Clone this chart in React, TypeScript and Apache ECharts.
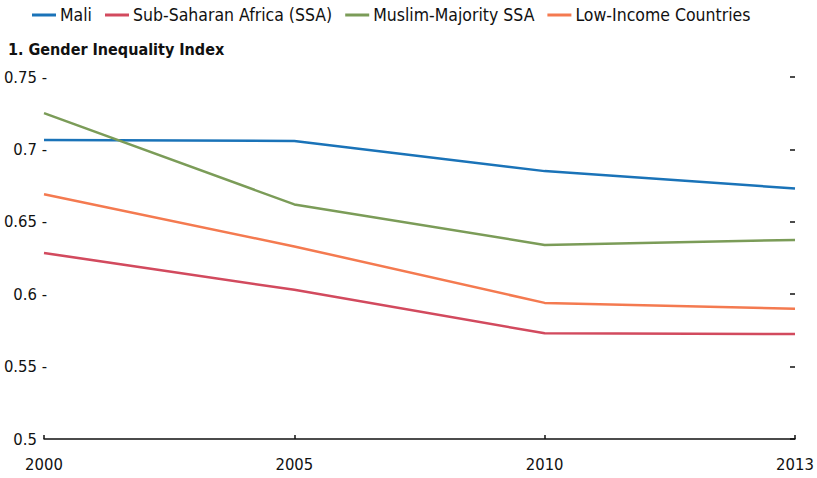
import React, { useEffect, useRef } from "react";
import * as echarts from "echarts";

const years = ["2000", "2005", "2010", "2013"];
const mali = [0.7065, 0.7058, 0.685, 0.673];
const ssa = [0.6285, 0.603, 0.573, 0.5725];
const muslimSSA = [0.725, 0.662, 0.634, 0.6375];
const lowIncome = [0.669, 0.633, 0.594, 0.59];

const seriesNames = ["Mali", "Sub-Saharan Africa (SSA)", "Muslim-Majority SSA", "Low-Income Countries"];
const colors = ["#1a73b8", "#d24a5e", "#7b9c58", "#f47a50"];

const FONT = "'DejaVu Sans Condensed', 'Liberation Sans Narrow', sans-serif";

export default function App() {
  const ref = useRef<HTMLDivElement>(null);
  useEffect(() => {
    if (!ref.current) return;
    const chart = echarts.init(ref.current, null, { renderer: "svg" });
    const data = [mali, ssa, muslimSSA, lowIncome];
    chart.setOption({
      animation: false,
      textStyle: { fontFamily: FONT },
      title: {
        text: "1. Gender Inequality Index",
        left: 8,
        top: 41,
        padding: 0,
        textStyle: { fontFamily: FONT, fontSize: 16, fontWeight: "bold", color: "#111" },
      },
      legend: {
        left: 32,
        top: 6,
        padding: 0,
        itemGap: 13,
        itemWidth: 24,
        itemHeight: 3,
        icon: "rect",
        data: seriesNames,
        textStyle: { fontFamily: FONT, fontSize: 17.5, color: "#111", padding: [0, 0, 0, -1] },
      },
      grid: { left: 44, right: 22, top: 77, bottom: 39, containLabel: false, outerBoundsMode: "none" },
      xAxis: {
        type: "category",
        data: years,
        boundaryGap: false,
        axisLine: { lineStyle: { color: "#111", width: 1.5 } },
        axisTick: { inside: true, length: 4, alignWithLabel: true, lineStyle: { color: "#111", width: 1.5 } },
        axisLabel: { fontFamily: FONT, fontSize: 16.5, color: "#111", margin: 17 },
        splitLine: { show: false },
      },
      yAxis: [
        {
          type: "value",
          min: 0.5,
          max: 0.75,
          interval: 0.05,
          axisLine: { show: false },
          axisTick: { show: false },
          splitLine: { show: false },
          axisLabel: {
            margin: -3,
            color: "#111",
            fontFamily: FONT,
            fontSize: 16.5,
            formatter: (v: number) => {
              const s = String(Math.round(v * 100) / 100);
              return Math.abs(v - 0.5) < 1e-9 ? "{a|" + s + "}{h| -}" : "{a|" + s + "}{b| -}";
            },
            rich: {
              a: { fontFamily: FONT, fontSize: 16.5, color: "#111" },
              b: { fontFamily: FONT, fontSize: 16.5, color: "#111" },
              h: { fontFamily: FONT, fontSize: 16.5, color: "rgba(0,0,0,0)" },
            },
          },
        },
        {
          type: "value",
          position: "right",
          min: 0.5,
          max: 0.75,
          interval: 0.05,
          axisLine: { show: false },
          axisTick: { show: true, inside: true, length: 5, lineStyle: { color: "#111", width: 1.5 } },
          axisLabel: { show: false },
          splitLine: { show: false },
        },
      ],
      series: data.map((d, i) => ({
        name: seriesNames[i],
        type: "line",
        data: d,
        symbol: "none",
        yAxisIndex: 0,
        lineStyle: { color: colors[i], width: 2.5 },
        itemStyle: { color: colors[i] },
      })),
    });
    return () => chart.dispose();
  }, []);
  return <div ref={ref} style={{ width: 817, height: 478, position: "absolute", left: 0, top: 0 }} />;
}
